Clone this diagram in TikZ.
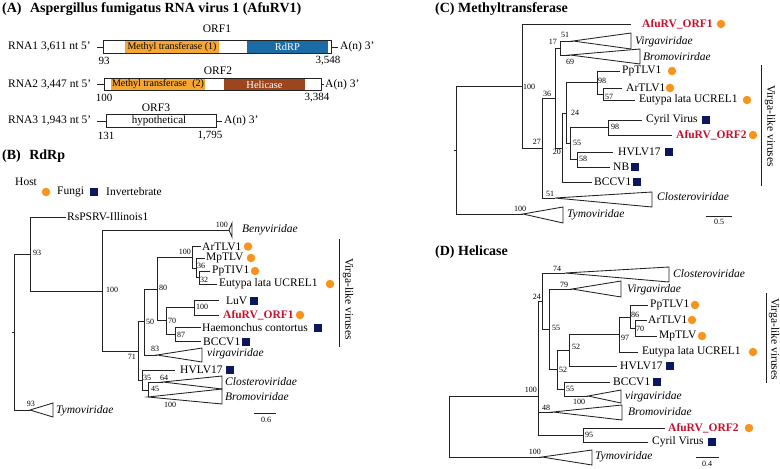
\documentclass[tikz,border=0pt]{standalone}
\usepackage{fontspec}
\setmainfont{Liberation Serif}
\definecolor{mtc}{HTML}{F6A733}
\definecolor{rdrp}{HTML}{1B6BA7}
\definecolor{heli}{HTML}{9C4620}
\definecolor{fungi}{HTML}{F7941D}
\definecolor{invc}{HTML}{0C165E}
\definecolor{afu}{HTML}{C8102E}
\definecolor{ln}{HTML}{222222}
\newcommand\twig[2]{\foreach \kid in {#2}{\draw[br] (#1) |- (\kid);}}
\newcommand\fsz[1]{\fontsize{#1}{#1}\selectfont}
\begin{document}
\begin{tikzpicture}[x=1pt,y=-1pt,
 br/.style={draw=ln, line width=0.85pt},
 tri/.style={draw=ln, line width=0.85pt, line join=miter},
 bsv/.style={font=\fsz{8}, inner sep=0pt},
 lf/.style={font=\fsz{11.5}, inner sep=0pt, anchor=west},
 lfi/.style={font=\fsz{11.5}\itshape, inner sep=0pt, anchor=west},
 afl/.style={font=\fsz{11.5}\bfseries, text=afu, inner sep=0pt, anchor=west},
 fun/.style={circle, fill=fungi, minimum size=8.5pt, inner sep=0pt},
 inv/.style={rectangle, fill=invc, minimum size=8pt, inner sep=0pt},
 ttl/.style={font=\fsz{14}\bfseries, inner sep=0pt, anchor=west},
 gl/.style={font=\fsz{11.5}, inner sep=0pt},
 num/.style={font=\fsz{11}, inner sep=0pt},
 boxt/.style={font=\fsz{10}, inner sep=0pt},
 orfbox/.style={draw=ln, line width=0.7pt, minimum height=12.5pt, inner sep=0pt, anchor=west},
 vlab/.style={font=\fsz{11.5}, inner sep=0pt, rotate=-90},
 sbar/.style={font=\fsz{8}, inner sep=0pt}
]
\useasboundingbox (0,0) rectangle (780,469);
\fill[white] (0,0) rectangle (780,469);

%% ================= Panel A =================
\node[ttl] (tA) at (2,9) {(A)\hspace{0.35em} Aspergillus fumigatus RNA virus 1 (AfuRV1)};
% RNA1
\node[gl] (orf1) at (217,29) {ORF1};
\node[gl, anchor=west] (r1) at (8,47) {RNA1 3,611 nt 5’};
\fill[mtc] (125,40.8) rectangle (219,53.2);
\fill[rdrp] (247,40.8) rectangle (328,53.2);
\node[orfbox, minimum width=228pt] (b1) at (103,47) {};
\node[boxt] (m1) at (172,47) {Methyl transferase (1)};
\node[boxt, text=white, font=\fsz{10.5}] (rd) at (287.5,47) {RdRP};
\coordinate (r1s) at (97,47);
\coordinate (r1e) at (338,47);
\draw[br] (r1s) -- (b1.west);
\draw[br] (b1.east) -- (r1e);
\node[gl, anchor=west] (p1) at (340,47) {A(n) 3’};
\node[num] (n93) at (104,61) {93};
\node[num] (n3548) at (328,61) {3,548};
% RNA2
\node[gl] (orf2) at (218,71) {ORF2};
\node[gl, anchor=west] (r2) at (8,84.5) {RNA2 3,447 nt 5’};
\fill[mtc] (111,78.3) rectangle (205,90.7);
\fill[heli] (224,78.3) rectangle (305,90.7);
\node[orfbox, minimum width=217pt] (b2) at (104,84.5) {};
\node[boxt] (m2) at (158,84.5) {Methyl transferase\hspace{0.3em} (2)};
\node[boxt, text=white, font=\fsz{10.5}] (he) at (264.5,84.5) {Helicase};
\coordinate (r2s) at (97,84.5);
\coordinate (r2e) at (324,84.5);
\draw[br] (r2s) -- (b2.west);
\draw[br] (b2.east) -- (r2e);
\node[gl, anchor=west] (p2) at (325,84.5) {A(n) 3’};
\node[num] (n100) at (104,98) {100};
\node[num] (n3384) at (317,98) {3,384};
% RNA3
\node[gl] (orf3) at (156,108) {ORF3};
\node[gl, anchor=west] (r3) at (8,121) {RNA3 1,943 nt 5’};
\node[orfbox, minimum width=110pt] (b3) at (106,121) {};
\node[gl, font=\fsz{11}] (hy) at (159,121) {hypothetical};
\coordinate (r3s) at (97,121);
\coordinate (r3e) at (222,121);
\draw[br] (r3s) -- (b3.west);
\draw[br] (b3.east) -- (r3e);
\node[gl, anchor=west] (p3) at (224,121) {A(n) 3’};
\node[num] (n131) at (106,136) {131};
\node[num] (n1795) at (210,136) {1,795};

%% ================= Panel B =================
\node[ttl] (tB) at (2,156) {(B)\hspace{0.35em} RdRp};
\node[lf] (host) at (15,182) {Host};
\node[fun] (lgf) at (46,192) {};
\node[lf] (lgft) at (57,192) {Fungi};
\node[inv] (lgi) at (94,192) {};
\node[lf] (lgit) at (106,192) {Invertebrate};

\coordinate (Broot) at (14,332);
\coordinate (B93) at (30,254);
\coordinate (BRs) at (66,217);
\coordinate (B100a) at (102,291);
\coordinate (BBen) at (229,230);
\coordinate (B71) at (138,351);
\coordinate (B50) at (144,321);
\coordinate (B80) at (157,289);
\coordinate (B100b) at (192,257);
\coordinate (BArT) at (201,246.5);
\coordinate (B36) at (196,268);
\coordinate (BMpT) at (205,258);
\coordinate (B32) at (199,277.5);
\coordinate (BPpT) at (210,271);
\coordinate (BEut) at (217,284);
\coordinate (B70) at (166,320);
\coordinate (B100c) at (194,307.5);
\coordinate (BLuV) at (219,300.5);
\coordinate (BAfu) at (219,315);
\coordinate (B87) at (175,334.5);
\coordinate (BHae) at (201,327.5);
\coordinate (BBCC) at (201,341.5);
\coordinate (BVir) at (157,355);
\coordinate (B35) at (142,380);
\coordinate (BHVL) at (175,370);
\coordinate (B45) at (148,390);
\coordinate (BClo) at (163,382);
\coordinate (BBro) at (148,397);
\coordinate (BTym) at (30,410);

\draw[br] (Broot) -- ++(-2,0);
\twig{Broot}{B93,BTym}
\twig{B93}{BRs,B100a}
\twig{B100a}{BBen,B71}
\twig{B71}{B50,B35}
\twig{B50}{B80,BVir}
\twig{B80}{B100b,B70}
\twig{B100b}{BArT,B36}
\twig{B36}{BMpT,B32}
\twig{B32}{BPpT,BEut}
\twig{B70}{B100c,B87}
\twig{B100c}{BLuV,BAfu}
\twig{B87}{BHae,BBCC}
\twig{B35}{BHVL,B45}
\twig{B45}{BClo,BBro}

\draw[tri] (BBen) -- (232,223) -- (232,237) -- cycle;
\draw[tri] (BVir) -- (202,348) -- (202,362) -- cycle;
\draw[tri] (BClo) -- (222,376) -- (222,389) -- cycle;
\draw[tri] (BBro) -- (222,389) -- (222,404) -- cycle;
\draw[tri] (BTym) -- (53,403) -- (53,417) -- cycle;

\node[lf] (lBRs) at (67,217) {RsPSRV-Illinois1};
\node[lfi] (lBBen) at (242,230) {Benyviridae};
\node[lf] (lBArT) at (202,246.5) {ArTLV1};
\node[lf] (lBMpT) at (206,258) {MpTLV};
\node[lf] (lBPpT) at (212,271) {PpTIV1};
\node[lf] (lBEut) at (219,284) {Eutypa lata UCREL1};
\node[lf] (lBLuV) at (226,300.5) {LuV};
\node[afl] (lBAfu) at (223,315) {AfuRV\_ORF1};
\node[lf] (lBHae) at (202,327.5) {Haemonchus contortus};
\node[lf] (lBBCC) at (203,341.5) {BCCV1};
\node[lfi] (lBVir) at (207,354) {virgaviridae};
\node[lf] (lBHVL) at (180,370) {HVLV17};
\node[lfi] (lBClo) at (225,382) {Closteroviridae};
\node[lfi] (lBBro) at (225,397) {Bromoviridae};
\node[lfi] (lBTym) at (56,411) {Tymoviridae};

\node[fun] (sBArT) at (248,246.5) {};
\node[fun] (sBMpT) at (251,258) {};
\node[fun] (sBPpT) at (255,271) {};
\node[fun] (sBEut) at (330,284) {};
\node[inv] (sBLuV) at (254,300.5) {};
\node[fun] (sBAfu) at (300,315) {};
\node[inv] (sBHae) at (318,327.5) {};
\node[inv] (sBBCC) at (246,341.5) {};
\node[inv] (sBHVL) at (230,370) {};

\node[bsv, anchor=west] (bB93) at (33,253) {93};
\node[bsv, anchor=west] (bB100a) at (106,290) {100};
\node[bsv, anchor=east] (bBBen) at (228,225) {100};
\node[bsv, anchor=east] (bB100b) at (191,252) {100};
\node[bsv, anchor=west] (bB36) at (197,266) {36};
\node[bsv, anchor=west] (bB32) at (200,280) {32};
\node[bsv, anchor=west] (bB80) at (159,288) {80};
\node[bsv, anchor=west] (bB100c) at (196,307) {100};
\node[bsv, anchor=west] (bB70) at (168,321) {70};
\node[bsv, anchor=west] (bB50) at (146,322) {50};
\node[bsv, anchor=west] (bB87) at (177,335) {87};
\node[bsv, anchor=west] (bB83) at (151,349) {83};
\node[bsv, anchor=east] (bB71) at (136,357) {71};
\node[bsv, anchor=west] (bB35) at (143,378) {35};
\node[bsv, anchor=west] (bB64) at (160,378) {64};
\node[bsv, anchor=west] (bB45) at (151,389) {45};
\node[bsv] (bBBro) at (170,405) {100};
\node[bsv] (bBTym) at (31,404) {93};

\coordinate (vBa) at (339,239);
\coordinate (vBb) at (339,347);
\draw[br] (vBa) -- (vBb);
\node[vlab] (vBt) at (348,299) {Virga-like viruses};
\coordinate (sBa) at (254,413);
\coordinate (sBb) at (276,413);
\draw[br] (sBa) -- (sBb);
\node[sbar] (sBt) at (266,420) {0.6};

%% ================= Panel C =================
\node[ttl] (tC) at (435,9) {(C) Methyltransferase};
\coordinate (Croot) at (456,150);
\coordinate (C100) at (522,86);
\coordinate (CAfu1) at (631,24);
\coordinate (C27) at (542,148);
\coordinate (C36) at (555,98);
\coordinate (C17) at (560,48);
\coordinate (CVir) at (573,41);
\coordinate (CBro) at (570,55);
\coordinate (C20) at (562,148);
\coordinate (CClo) at (555,198);
\coordinate (C24) at (566,113);
\coordinate (CBCC) at (592,182);
\coordinate (C98a) at (597,82.5);
\coordinate (C55) at (570,143);
\coordinate (CPpT) at (620,71);
\coordinate (C57) at (603,94);
\coordinate (CArT) at (622,88);
\coordinate (CEut) at (635,100);
\coordinate (C98b) at (608,127.5);
\coordinate (CCyr) at (642,120);
\coordinate (CAfu2) at (672,135);
\coordinate (C58) at (577,159.5);
\coordinate (CHVL) at (613,152);
\coordinate (CNB) at (610,167);
\coordinate (CTym) at (523,214);

\draw[br] (Croot) -- ++(-2,0);
\twig{Croot}{C100,CTym}
\twig{C100}{CAfu1,C27}
\twig{C27}{C36,CClo}
\twig{C36}{C17,C20}
\twig{C17}{CVir,CBro}
\twig{C20}{C24,CBCC}
\twig{C24}{C98a,C55}
\twig{C98a}{CPpT,C57}
\twig{C57}{CArT,CEut}
\twig{C55}{C98b,C58}
\twig{C98b}{CCyr,CAfu2}
\twig{C58}{CHVL,CNB}

\draw[tri] (CVir) -- (631,33) -- (631,49) -- cycle;
\draw[tri] (CBro) -- (640,49) -- (640,64) -- cycle;
\draw[tri] (CClo) -- (652,192) -- (652,207) -- cycle;
\draw[tri] (CTym) -- (563,207) -- (563,223) -- cycle;

\node[afl] (lCAfu1) at (642,24) {AfuRV\_ORF1};
\node[lfi] (lCVir) at (635,42) {Virgaviridae};
\node[lfi] (lCBro) at (643,57) {Bromovirirdae};
\node[lf] (lCPpT) at (622,71) {PpTLV1};
\node[lf] (lCArT) at (626,88) {ArTLV1};
\node[lf] (lCEut) at (639,100) {Eutypa lata UCREL1};
\node[lf] (lCCyr) at (646,120) {Cyril Virus};
\node[afl] (lCAfu2) at (676,135) {AfuRV\_ORF2};
\node[lf] (lCHVL) at (618,152) {HVLV17};
\node[lf] (lCNB) at (613,167) {NB};
\node[lf] (lCBCC) at (594,182) {BCCV1};
\node[lfi] (lCClo) at (657,197) {Closteroviridae};
\node[lfi] (lCTym) at (567,215) {Tymoviridae};

\node[fun] (sCAfu1) at (721,24) {};
\node[fun] (sCPpT) at (672,71) {};
\node[fun] (sCArT) at (670,88) {};
\node[fun] (sCEut) at (747,100) {};
\node[inv] (sCCyr) at (706,120) {};
\node[fun] (sCAfu2) at (753,135) {};
\node[inv] (sCHVL) at (669,152) {};
\node[inv] (sCNB) at (635,167) {};
\node[inv] (sCBCC) at (637,182) {};

\node[bsv, anchor=west] (bC100) at (523,87) {100};
\node[bsv, anchor=east] (bC17) at (557,42) {17};
\node[bsv, anchor=west] (bC51a) at (561,35) {51};
\node[bsv, anchor=west] (bC69) at (566,62) {69};
\node[bsv, anchor=west] (bC36) at (543,94) {36};
\node[bsv, anchor=west] (bC98a) at (598,81) {98};
\node[bsv, anchor=west] (bC57) at (605,97) {57};
\node[bsv, anchor=west] (bC24) at (571,113) {24};
\node[bsv, anchor=west] (bC98b) at (611,127) {98};
\node[bsv, anchor=west] (bC55) at (573,143) {55};
\node[bsv, anchor=west] (bC58) at (579,159) {58};
\node[bsv, anchor=east] (bC20) at (561,152) {20};
\node[bsv, anchor=east] (bC27) at (541,142) {27};
\node[bsv, anchor=west] (bC51b) at (546,194) {51};
\node[bsv] (bC100t) at (520,209) {100};

\coordinate (vCa) at (761,65);
\coordinate (vCb) at (761,186);
\draw[br] (vCa) -- (vCb);
\node[vlab] (vCt) at (770,126) {Virga-like viruses};
\coordinate (sCa) at (706,216);
\coordinate (sCb) at (732,216);
\draw[br] (sCa) -- (sCb);
\node[sbar] (sCt) at (719,222) {0.5};

%% ================= Panel D =================
\node[ttl] (tD) at (435,252) {(D) Helicase};
\coordinate (Droot) at (449,396);
\coordinate (D100) at (538,396);
\coordinate (D24) at (542,301);
\coordinate (DClo) at (565,273);
\coordinate (D55) at (549,329);
\coordinate (DVir1) at (572,289);
\coordinate (D52b) at (557,369.5);
\coordinate (D52a) at (569,350);
\coordinate (D97) at (619,334.5);
\coordinate (D86) at (630,317);
\coordinate (DPpT) at (648,305);
\coordinate (D70) at (635,328);
\coordinate (DArT) at (647,320);
\coordinate (DMpT) at (657,336);
\coordinate (DEut) at (638,352);
\coordinate (DHVL) at (617,366);
\coordinate (D55b) at (564,389);
\coordinate (DBCC) at (610,382);
\coordinate (DVir2) at (588,396);
\coordinate (DBro) at (553,412);
\coordinate (D95) at (583,435);
\coordinate (DAfu) at (665,428);
\coordinate (DCyr) at (648,442);
\coordinate (DTym) at (542,457);

\twig{Droot}{D100,DTym}
\twig{D100}{D24,DBro,D95}
\twig{D24}{DClo,D55}
\twig{D55}{DVir1,D52b}
\twig{D52b}{D52a,D55b}
\twig{D52a}{D97,DHVL}
\twig{D97}{D86,DEut}
\twig{D86}{DPpT,D70}
\twig{D70}{DArT,DMpT}
\twig{D55b}{DBCC,DVir2}
\twig{D95}{DAfu,DCyr}

\draw[tri] (DClo) -- (669,267) -- (669,282) -- cycle;
\draw[tri] (DVir1) -- (621,281) -- (621,297) -- cycle;
\draw[tri] (DVir2) -- (621,390) -- (621,403) -- cycle;
\draw[tri] (DBro) -- (622,405) -- (622,420) -- cycle;
\draw[tri] (DTym) -- (592,450) -- (592,465) -- cycle;

\node[lfi] (lDClo) at (673,274) {Closteroviridae};
\node[lfi] (lDVir1) at (627,290) {Virgavirdae};
\node[lf] (lDPpT) at (650,305) {PpTLV1};
\node[lf] (lDArT) at (648,320) {ArTLV1};
\node[lf] (lDMpT) at (659,336) {MpTLV};
\node[lf] (lDEut) at (642,352) {Eutypa lata UCREL1};
\node[lf] (lDHVL) at (620,366) {HVLV17};
\node[lf] (lDBCC) at (613,382) {BCCV1};
\node[lfi] (lDVir2) at (625,397) {virgaviridae};
\node[lfi] (lDBro) at (628,412) {Bromoviridae};
\node[afl] (lDAfu) at (668,428) {AfuRV\_ORF2};
\node[lf] (lDCyr) at (652,442) {Cyril Virus};
\node[lfi] (lDTym) at (595,457) {Tymoviridae};

\node[fun] (sDPpT) at (695,305) {};
\node[fun] (sDArT) at (692,320) {};
\node[fun] (sDMpT) at (702,336) {};
\node[fun] (sDEut) at (753,352) {};
\node[inv] (sDHVL) at (670,366) {};
\node[inv] (sDBCC) at (657,382) {};
\node[fun] (sDAfu) at (749,428) {};
\node[inv] (sDCyr) at (712,442) {};

\node[bsv, anchor=west] (bD74) at (553,269) {74};
\node[bsv, anchor=west] (bD79) at (560,285) {79};
\node[bsv, anchor=east] (bD24) at (541,297) {24};
\node[bsv, anchor=west] (bD55) at (552,328) {55};
\node[bsv, anchor=west] (bD86) at (631,315) {86};
\node[bsv, anchor=west] (bD70) at (636,329) {70};
\node[bsv, anchor=west] (bD97) at (621,338) {97};
\node[bsv, anchor=west] (bD52a) at (572,347) {52};
\node[bsv, anchor=west] (bD52b) at (559,370) {52};
\node[bsv, anchor=west] (bD55b) at (566,389) {55};
\node[bsv, anchor=west] (bD100v) at (573,402) {100};
\node[bsv, anchor=west] (bD48) at (542,408) {48};
\node[bsv, anchor=west] (bD95) at (585,435) {95};
\node[bsv, anchor=east] (bD100) at (537,390) {100};
\node[bsv, anchor=east] (bD100t) at (541,452) {100};

\coordinate (vDa) at (766,293);
\coordinate (vDb) at (766,383);
\draw[br] (vDa) -- (vDb);
\node[vlab] (vDt) at (774,339) {Virga-like viruses};
\coordinate (sDa) at (696,457);
\coordinate (sDb) at (719,457);
\draw[br] (sDa) -- (sDb);
\node[sbar] (sDt) at (707,464) {0.4};
\end{tikzpicture}
\end{document}
